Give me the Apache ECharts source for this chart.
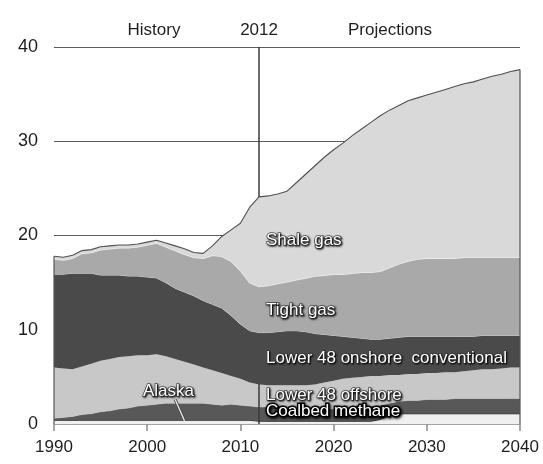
<!DOCTYPE html>
<html>
<head>
<meta charset="utf-8">
<script src="https://cdn.jsdelivr.net/npm/echarts@6/dist/echarts.min.js"></script>
<style>
  html, body { margin: 0; padding: 0; background: #fff; }
  #chart { width: 543px; height: 464px; }
</style>
</head>
<body>
<div id="chart"></div>
<script>
// U.S. natural gas production by source, 1990-2040 (trillion cubic feet)
const years = [
  '1990', '1991', '1992', '1993', '1994', '1995', '1996', '1997', '1998', '1999',
  '2000', '2001', '2002', '2003', '2004', '2005', '2006', '2007', '2008', '2009',
  '2010', '2011', '2012', '2013', '2014', '2015', '2016', '2017', '2018', '2019',
  '2020', '2021', '2022', '2023', '2024', '2025', '2026', '2027', '2028', '2029',
  '2030', '2031', '2032', '2033', '2034', '2035', '2036', '2037', '2038', '2039', '2040'
];
const alaska = [
  0.4, 0.4, 0.4, 0.4, 0.4, 0.4, 0.4, 0.4, 0.4, 0.4,
  0.4, 0.4, 0.4, 0.4, 0.4, 0.4, 0.4, 0.4, 0.4, 0.4,
  0.4, 0.4, 0.3, 0.3, 0.3, 0.3, 0.3, 0.3, 0.3, 0.3,
  0.3, 0.3, 0.3, 0.3, 0.3, 0.5, 0.9, 1.1, 1.1, 1.1,
  1.1, 1.1, 1.1, 1.1, 1.1, 1.1, 1.1, 1.1, 1.1, 1.1, 1.1
];
const coalbedMethane = [
  0.2, 0.3, 0.4, 0.6, 0.7, 0.9, 1.0, 1.2, 1.3, 1.5,
  1.6, 1.7, 1.8, 1.8, 1.8, 1.8, 1.8, 1.7, 1.6, 1.7,
  1.6, 1.5, 1.5, 1.5, 1.4, 1.4, 1.3, 1.3, 1.3, 1.3,
  1.3, 1.3, 1.4, 1.5, 1.6, 1.5, 1.3, 1.3, 1.4, 1.4,
  1.5, 1.5, 1.5, 1.6, 1.6, 1.6, 1.6, 1.6, 1.6, 1.6, 1.6
];
const lower48Offshore = [
  5.4, 5.2, 5.0, 5.1, 5.3, 5.4, 5.5, 5.5, 5.5, 5.4,
  5.3, 5.3, 5.0, 4.7, 4.4, 4.1, 3.8, 3.6, 3.4, 3.0,
  2.8, 2.5, 2.4, 2.3, 2.4, 2.4, 2.5, 2.5, 2.6, 2.8,
  3.0, 3.2, 3.2, 3.2, 3.2, 3.1, 3.0, 2.8, 2.8, 2.8,
  2.8, 2.8, 2.9, 2.8, 2.9, 3.0, 3.1, 3.1, 3.2, 3.3, 3.3
];
const lower48Onshore = [
  9.9, 10.0, 10.2, 9.9, 9.6, 9.1, 8.9, 8.7, 8.5, 8.4,
  8.3, 8.1, 7.8, 7.5, 7.4, 7.3, 7.1, 7.0, 6.9, 6.4,
  5.8, 5.5, 5.5, 5.6, 5.7, 5.8, 5.8, 5.7, 5.4, 5.1,
  4.8, 4.5, 4.3, 4.1, 3.9, 3.9, 3.9, 4.0, 4.0, 4.0,
  3.9, 3.9, 3.8, 3.8, 3.7, 3.6, 3.6, 3.6, 3.5, 3.4, 3.4
];
const tightGas = [
  1.6, 1.5, 1.6, 2.1, 2.2, 2.7, 2.8, 2.9, 3.0, 3.1,
  3.4, 3.7, 3.8, 4.0, 4.0, 4.1, 4.5, 5.2, 5.5, 5.8,
  5.7, 5.1, 4.9, 5.0, 5.1, 5.2, 5.4, 5.7, 6.1, 6.3,
  6.5, 6.6, 6.8, 7.0, 7.1, 7.2, 7.5, 7.8, 8.0, 8.2,
  8.3, 8.3, 8.3, 8.3, 8.4, 8.4, 8.3, 8.3, 8.3, 8.3, 8.3
];
const shaleGas = [
  0.3, 0.3, 0.3, 0.3, 0.3, 0.3, 0.3, 0.3, 0.3, 0.3,
  0.3, 0.3, 0.4, 0.5, 0.6, 0.5, 0.5, 1.0, 2.1, 3.3,
  5.0, 8.0, 9.5, 9.5, 9.5, 9.6, 10.3, 11.0, 11.7, 12.5,
  13.2, 13.9, 14.6, 15.2, 15.9, 16.5, 16.7, 16.8, 17.0, 17.1,
  17.3, 17.6, 17.9, 18.2, 18.4, 18.6, 18.9, 19.2, 19.4, 19.7, 19.9
];
const splitYear = '2012';
const xTicks = ['1990', '2000', '2010', '2020', '2030', '2040'];
const yTicks = [0, 10, 20, 30, 40];

const layers = [
  { name: 'Alaska', data: alaska, color: '#f0f0f0', line: '#222222', lw: 1.2 },
  { name: 'Coalbed methane', data: coalbedMethane, color: '#585858', line: '#b5b5b5', lw: 0.6 },
  { name: 'Lower 48 offshore', data: lower48Offshore, color: '#c8c8c8', line: '#c8c8c8', lw: 0 },
  { name: 'Lower 48 onshore conventional', data: lower48Onshore, color: '#4a4a4a', line: '#d2d2d2', lw: 1 },
  { name: 'Tight gas', data: tightGas, color: '#a9a9a9', line: '#ececec', lw: 1.6 },
  { name: 'Shale gas', data: shaleGas, color: '#d9d9d9', line: '#505050', lw: 1.1 }
];

const chart = echarts.init(document.getElementById('chart'), null, { renderer: 'canvas' });

const series = layers.map((l, idx) => {
  const s = {
    name: l.name,
    type: 'line',
    stack: 'production',
    data: l.data,
    showSymbol: false,
    symbol: 'none',
    silent: true,
    animation: false,
    lineStyle: { color: l.line, width: l.lw },
    areaStyle: { color: l.color, opacity: 1 },
    z: 2 + idx
  };
  if (idx === layers.length - 1) {
    s.markLine = {
      silent: true,
      symbol: ['none', 'none'],
      animation: false,
      label: { show: false },
      lineStyle: { color: '#3a3a3a', width: 1.5, type: 'solid' },
      data: [{ xAxis: splitYear }]
    };
  }
  return s;
});

const font = '"Liberation Sans", Arial, sans-serif';
const isTick = i => xTicks.indexOf(years[i]) >= 0;

chart.setOption({
  backgroundColor: '#ffffff',
  animation: false,
  grid: { left: 54, right: 23, top: 47, bottom: 40, containLabel: false },
  xAxis: {
    type: 'category',
    data: years,
    boundaryGap: false,
    axisLine: { show: true, lineStyle: { color: '#bdbdbd', width: 1.5 } },
    axisTick: { show: true, length: 7, interval: isTick, alignWithLabel: true, lineStyle: { color: '#8a8a8a', width: 1.5 } },
    splitLine: { show: false },
    axisLabel: {
      color: '#1e1e1e',
      fontSize: 17,
      fontFamily: font,
      margin: 15,
      interval: isTick,
      showMaxLabel: true
    }
  },
  yAxis: {
    type: 'value',
    min: 0,
    max: 40,
    interval: 10,
    axisLine: { show: false },
    axisTick: { show: false },
    splitLine: { show: true, lineStyle: { color: '#5c5c5c', width: 1 } },
    axisLabel: {
      color: '#1e1e1e',
      fontSize: 18,
      fontFamily: font,
      margin: 16,
      formatter: v => (yTicks.indexOf(v) >= 0 ? String(v) : '')
    }
  },
  series: series
});

// Stack outline at the first and last year, from the library's own scale
const totalAt = i => layers.reduce((sum, l) => sum + l.data[i], 0);
const first = 0, last = years.length - 1;
const px = (cat, v) => chart.convertToPixel({ gridIndex: 0 }, [cat, v]);
const pL0 = px(years[first], 0), pL1 = px(years[first], totalAt(first));
const pR0 = px(years[last], 0), pR1 = px(years[last], totalAt(last));
// Leader from the Alaska label down to its band
const iA = years.indexOf('2003'), iB = years.indexOf('2004');
const leadA = px(years[iA], 2.6);
const leadB = px(years[iB], 0.35);
const splitX = px(splitYear, 0)[0];

// White in-chart labels with a dark halo and drop shadow
function inChartText(text, x, y, opts) {
  opts = opts || {};
  const halo = opts.halo || 'rgba(45,45,45,0.75)';
  const shadow = opts.shadow || 'rgba(0,0,0,0.85)';
  const blur = opts.blur == null ? 2 : opts.blur;
  return {
    type: 'text', x: x, y: y, z: 100, silent: true,
    style: {
      text: text,
      fill: '#ffffff',
      font: '17px ' + font,
      textAlign: 'left', textVerticalAlign: 'middle',
      align: 'left', verticalAlign: 'middle',
      stroke: halo,
      lineWidth: opts.lw == null ? 1.6 : opts.lw,
      textShadowColor: shadow,
      textShadowBlur: blur,
      textShadowOffsetX: 1,
      textShadowOffsetY: 1,
      shadowColor: shadow,
      shadowBlur: blur,
      shadowOffsetX: 1,
      shadowOffsetY: 1
    }
  };
}
const header = (text, x) => ({
  type: 'text', x: x, y: 30, z: 100, silent: true,
  style: {
    text: text, fill: '#1e1e1e', font: '17px ' + font,
    textAlign: 'center', textVerticalAlign: 'middle', align: 'center', verticalAlign: 'middle'
  }
});

chart.setOption({
  graphic: [
    { type: 'line', z: 50, silent: true, shape: { x1: pL0[0], y1: pL0[1], x2: pL1[0], y2: pL1[1] }, style: { stroke: '#555', lineWidth: 1.2 } },
    { type: 'line', z: 50, silent: true, shape: { x1: pR0[0], y1: pR0[1], x2: pR1[0], y2: pR1[1] }, style: { stroke: '#555', lineWidth: 1.2 } },
    { type: 'line', z: 60, silent: true, shape: { x1: leadA[0], y1: leadA[1], x2: leadB[0], y2: leadB[1] }, style: { stroke: '#444', lineWidth: 3 } },
    { type: 'line', z: 61, silent: true, shape: { x1: leadA[0], y1: leadA[1], x2: leadB[0], y2: leadB[1] }, style: { stroke: '#f2f2f2', lineWidth: 1.3 } },
    header('History', 154),
    header('2012', splitX),
    header('Projections', 390),
    inChartText('Shale gas', 266, 240),
    inChartText('Tight gas', 266, 310),
    inChartText('Lower 48 onshore  conventional', 266, 358, { lw: 0.8, blur: 1.5 }),
    inChartText('Lower 48 offshore', 266, 395),
    inChartText('Coalbed methane', 266, 411, { halo: '#000', lw: 3, shadow: '#000', blur: 3 }),
    inChartText('Alaska', 143, 391)
  ]
});
</script>
</body>
</html>
